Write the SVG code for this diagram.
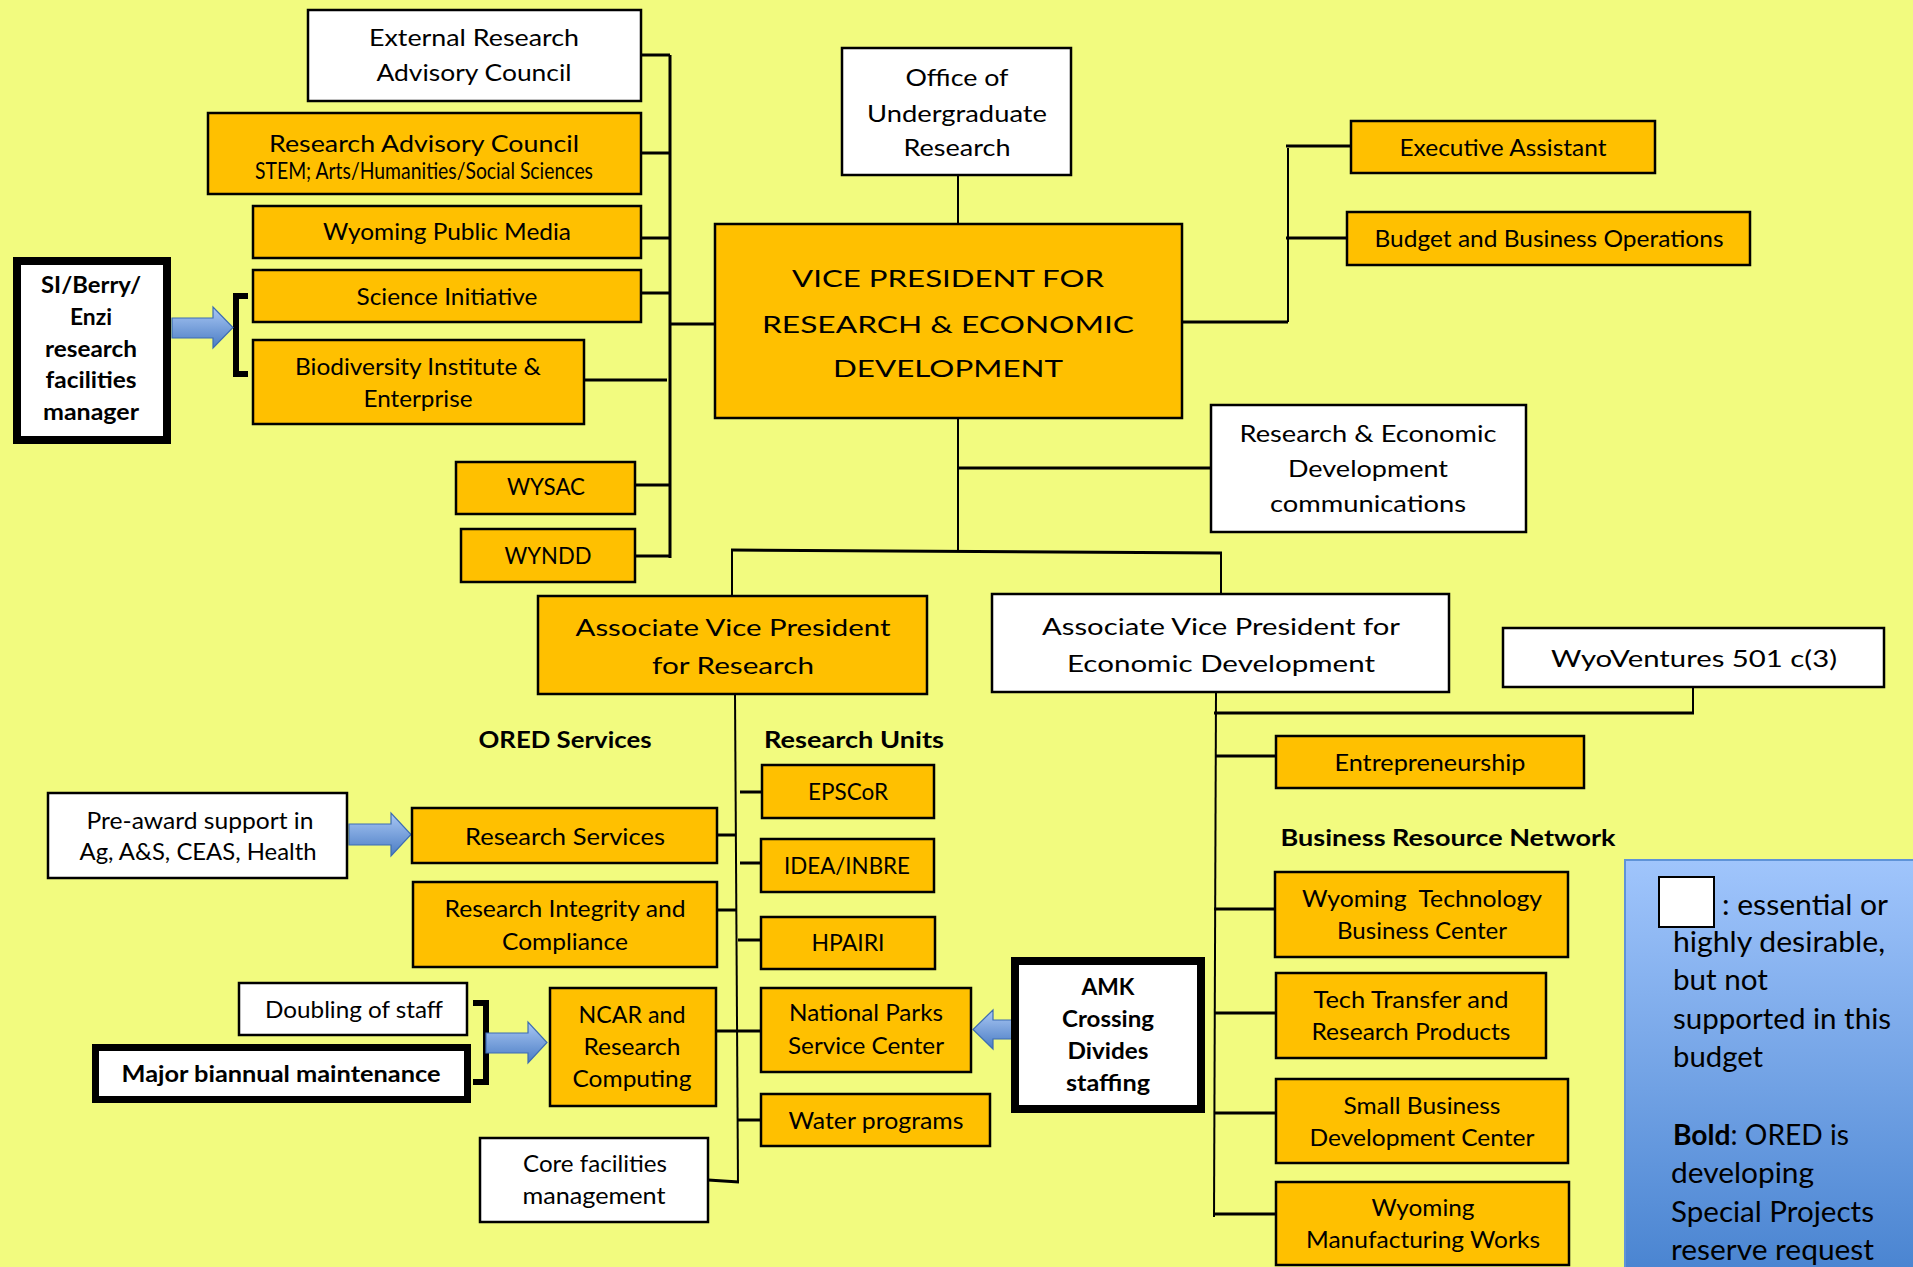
<svg xmlns="http://www.w3.org/2000/svg" width="1913" height="1267" viewBox="0 0 1913 1267">
<defs>
<style>
.o{fill:#FFC000;stroke:#000;stroke-width:2.5}
.w{fill:#fff;stroke:#000;stroke-width:2.5}
.k{fill:#fff;stroke:#000;stroke-width:8}
#connectors line,#connectors polyline,#connectors path{stroke:#000;stroke-width:3;fill:none}
text{font-family:Lato,"Liberation Sans",sans-serif;fill:#000;text-anchor:middle;font-size:23px}
.bd{font-weight:bold}
.arr{fill:url(#ag);stroke:#3d6db3;stroke-width:1.2}
.lg{text-anchor:start;font-size:29px}
</style>
<linearGradient id="ag" x1="0" y1="0" x2="0" y2="1"><stop offset="0" stop-color="#aac8f4"/><stop offset="1" stop-color="#4a7cc4"/></linearGradient>
<linearGradient id="lgg" x1="0" y1="0" x2="0" y2="1"><stop offset="0" stop-color="#a0c5fc"/><stop offset="1" stop-color="#4883d0"/></linearGradient>
</defs>
<rect width="1913" height="1267" fill="#f2fb7f"/>

<g id="connectors">
<line x1="670" y1="55" x2="670" y2="558"/>
<line x1="641" y1="55" x2="670" y2="55"/>
<line x1="641" y1="153" x2="670" y2="153"/>
<line x1="641" y1="238" x2="670" y2="238"/>
<line x1="641" y1="293" x2="670" y2="293"/>
<line x1="584" y1="380" x2="667" y2="380"/>
<line x1="635" y1="485" x2="670" y2="485"/>
<line x1="635" y1="556" x2="670" y2="556"/>
<line x1="670" y1="324" x2="715" y2="324"/>
<line x1="958" y1="175" x2="958" y2="224" style="stroke-width:2"/>
<line x1="1182" y1="322" x2="1288" y2="322"/>
<line x1="1288" y1="148" x2="1288" y2="322" style="stroke-width:2"/>
<line x1="1286" y1="146" x2="1351" y2="146"/>
<line x1="1286" y1="238" x2="1347" y2="238"/>
<line x1="958" y1="418" x2="958" y2="551" style="stroke-width:2"/>
<line x1="958" y1="468" x2="1211" y2="468"/>
<line x1="731" y1="550" x2="1222" y2="553"/>
<line x1="732" y1="550" x2="732" y2="596" style="stroke-width:2"/>
<line x1="1221" y1="553" x2="1221" y2="594" style="stroke-width:2"/>
<line x1="735" y1="694" x2="738" y2="1183" style="stroke-width:2"/>
<line x1="717" y1="835" x2="736" y2="835"/>
<line x1="717" y1="910" x2="737" y2="910"/>
<line x1="716" y1="1031" x2="761" y2="1031"/>
<line x1="708" y1="1180" x2="739" y2="1182"/>
<line x1="740" y1="792" x2="762" y2="792"/>
<line x1="740" y1="863" x2="761" y2="863"/>
<line x1="738" y1="940" x2="761" y2="940"/>
<line x1="738" y1="1120" x2="761" y2="1120"/>
<line x1="1216" y1="692" x2="1214" y2="1217" style="stroke-width:2"/>
<line x1="1693" y1="687" x2="1693" y2="714" style="stroke-width:2"/>
<line x1="1214" y1="713" x2="1694" y2="713"/>
<line x1="1215" y1="756" x2="1276" y2="756"/>
<line x1="1214" y1="909" x2="1275" y2="909"/>
<line x1="1214" y1="1013" x2="1276" y2="1013"/>
<line x1="1214" y1="1113" x2="1276" y2="1113"/>
<line x1="1214" y1="1214" x2="1276" y2="1214"/>
<path d="M248,296 H236 V374 H248" style="stroke-width:6"/>
<path d="M473,1003 H486 V1082 H473" style="stroke-width:6"/>
</g>

<g id="arrows">
<path class="arr" d="M172,318 H213 V307 L233,327.5 L213,348 V338 H172 Z"/>
<path class="arr" d="M349,824 H391 V813 L411,834.5 L391,856 V845 H349 Z"/>
<path class="arr" d="M486,1033 H528 V1022 L547,1042.5 L528,1063 V1053 H486 Z"/>
<path class="arr" d="M1013,1020 H993 V1010 L973,1029.5 L993,1049 V1039 H1013 Z"/>
</g>

<g id="ext"><rect class="w" x="308" y="10" width="333" height="91"/>
<text x="474" y="46" font-size="25" textLength="210" lengthAdjust="spacingAndGlyphs">External Research</text>
<text x="474" y="81" font-size="25" textLength="195" lengthAdjust="spacingAndGlyphs">Advisory Council</text></g>

<g id="rac"><rect class="o" x="208" y="113" width="433" height="81"/>
<text x="424" y="152" font-size="26" textLength="310" lengthAdjust="spacingAndGlyphs">Research Advisory Council</text>
<text x="424" y="179" font-size="19" textLength="338" lengthAdjust="spacingAndGlyphs">STEM; Arts/Humanities/Social Sciences</text></g>

<g id="wpm"><rect class="o" x="253" y="206" width="388" height="52"/>
<text x="447" y="240" textLength="248" lengthAdjust="spacingAndGlyphs">Wyoming Public Media</text></g>

<g id="si"><rect class="o" x="253" y="270" width="388" height="52"/>
<text x="447" y="305" font-size="24" textLength="181" lengthAdjust="spacingAndGlyphs">Science Initiative</text></g>

<g id="bio"><rect class="o" x="253" y="340" width="331" height="84"/>
<text x="418" y="375" font-size="24" textLength="246" lengthAdjust="spacingAndGlyphs">Biodiversity Institute &amp;</text>
<text x="418" y="407" font-size="24" textLength="109" lengthAdjust="spacingAndGlyphs">Enterprise</text></g>

<g id="siberry"><rect class="k" x="17" y="261" width="150" height="179"/>
<text class="bd" x="91" y="293" textLength="100" lengthAdjust="spacingAndGlyphs">SI/Berry/</text>
<text class="bd" x="91" y="325" textLength="42" lengthAdjust="spacingAndGlyphs">Enzi</text>
<text class="bd" x="91" y="357" textLength="92" lengthAdjust="spacingAndGlyphs">research</text>
<text class="bd" x="91" y="388" textLength="91" lengthAdjust="spacingAndGlyphs">facilities</text>
<text class="bd" x="91" y="420" textLength="96" lengthAdjust="spacingAndGlyphs">manager</text></g>

<g id="office"><rect class="w" x="842" y="48" width="229" height="127"/>
<text x="957" y="86" font-size="26" textLength="103" lengthAdjust="spacingAndGlyphs">Office of</text>
<text x="957" y="122" font-size="26" textLength="180" lengthAdjust="spacingAndGlyphs">Undergraduate</text>
<text x="957" y="156" font-size="26" textLength="107" lengthAdjust="spacingAndGlyphs">Research</text></g>

<g id="vp"><rect class="o" x="715" y="224" width="467" height="194"/>
<text x="948" y="287" font-size="31" textLength="312" lengthAdjust="spacingAndGlyphs">VICE PRESIDENT FOR</text>
<text x="948" y="333" font-size="31" textLength="372" lengthAdjust="spacingAndGlyphs">RESEARCH &amp; ECONOMIC</text>
<text x="948" y="377" font-size="31" textLength="230" lengthAdjust="spacingAndGlyphs">DEVELOPMENT</text></g>

<g id="exec"><rect class="o" x="1351" y="121" width="304" height="52"/>
<text x="1503" y="156" textLength="207" lengthAdjust="spacingAndGlyphs">Executive Assistant</text></g>

<g id="budget"><rect class="o" x="1347" y="212" width="403" height="53"/>
<text x="1549" y="247" textLength="349" lengthAdjust="spacingAndGlyphs">Budget and Business Operations</text></g>

<g id="recomm"><rect class="w" x="1211" y="405" width="315" height="127"/>
<text x="1368" y="442" font-size="25" textLength="257" lengthAdjust="spacingAndGlyphs">Research &amp; Economic</text>
<text x="1368" y="477" font-size="25" textLength="160" lengthAdjust="spacingAndGlyphs">Development</text>
<text x="1368" y="512" font-size="25" textLength="196" lengthAdjust="spacingAndGlyphs">communications</text></g>

<g id="wysac"><rect class="o" x="456" y="462" width="179" height="52"/>
<text x="546" y="495" textLength="78" lengthAdjust="spacingAndGlyphs">WYSAC</text></g>

<g id="wyndd"><rect class="o" x="461" y="529" width="174" height="53"/>
<text x="548" y="564" textLength="87" lengthAdjust="spacingAndGlyphs">WYNDD</text></g>

<g id="avpr"><rect class="o" x="538" y="596" width="389" height="98"/>
<text x="733" y="636" font-size="28.5" textLength="315" lengthAdjust="spacingAndGlyphs">Associate Vice President</text>
<text x="733" y="674" font-size="28.5" textLength="162" lengthAdjust="spacingAndGlyphs">for Research</text></g>

<g id="avped"><rect class="w" x="992" y="594" width="457" height="98"/>
<text x="1221" y="635" font-size="27.5" textLength="358" lengthAdjust="spacingAndGlyphs">Associate Vice President for</text>
<text x="1221" y="672" font-size="27.5" textLength="308" lengthAdjust="spacingAndGlyphs">Economic Development</text></g>

<g id="wyov"><rect class="w" x="1503" y="628" width="381" height="59"/>
<text x="1694" y="667" font-size="28" textLength="286" lengthAdjust="spacingAndGlyphs">WyoVentures 501 c(3)</text></g>

<g id="labels">
<text class="bd" x="565" y="748" textLength="173" lengthAdjust="spacingAndGlyphs">ORED Services</text>
<text class="bd" x="854" y="748" textLength="180" lengthAdjust="spacingAndGlyphs">Research Units</text>
<text class="bd" x="1448" y="846" textLength="335" lengthAdjust="spacingAndGlyphs">Business Resource Network</text>
</g>

<g id="epscor"><rect class="o" x="762" y="765" width="172" height="53"/>
<text x="848" y="800" textLength="80" lengthAdjust="spacingAndGlyphs">EPSCoR</text></g>

<g id="idea"><rect class="o" x="761" y="839" width="173" height="53"/>
<text x="847" y="874" textLength="126" lengthAdjust="spacingAndGlyphs">IDEA/INBRE</text></g>

<g id="hpairi"><rect class="o" x="761" y="917" width="174" height="52"/>
<text x="848" y="951" textLength="73" lengthAdjust="spacingAndGlyphs">HPAIRI</text></g>

<g id="natparks"><rect class="o" x="761" y="988" width="210" height="84"/>
<text x="866" y="1021" textLength="154" lengthAdjust="spacingAndGlyphs">National Parks</text>
<text x="866" y="1054" textLength="156" lengthAdjust="spacingAndGlyphs">Service Center</text></g>

<g id="water"><rect class="o" x="761" y="1094" width="229" height="52"/>
<text x="876" y="1129" textLength="175" lengthAdjust="spacingAndGlyphs">Water programs</text></g>

<g id="preaward"><rect class="w" x="48" y="793" width="299" height="85"/>
<text x="200" y="829" textLength="227" lengthAdjust="spacingAndGlyphs">Pre-award support in</text>
<text x="198" y="860" textLength="237" lengthAdjust="spacingAndGlyphs">Ag, A&amp;S, CEAS, Health</text></g>

<g id="resserv"><rect class="o" x="412" y="808" width="305" height="55"/>
<text x="565" y="845" font-size="26" textLength="200" lengthAdjust="spacingAndGlyphs">Research Services</text></g>

<g id="resint"><rect class="o" x="413" y="882" width="304" height="85"/>
<text x="565" y="917" textLength="241" lengthAdjust="spacingAndGlyphs">Research Integrity and</text>
<text x="565" y="950" textLength="126" lengthAdjust="spacingAndGlyphs">Compliance</text></g>

<g id="doubling"><rect class="w" x="239" y="983" width="228" height="52"/>
<text x="354" y="1018" textLength="178" lengthAdjust="spacingAndGlyphs">Doubling of staff</text></g>

<g id="major"><rect class="k" x="95.5" y="1047.5" width="372" height="52" style="stroke-width:7"/>
<text class="bd" x="281" y="1082" textLength="319" lengthAdjust="spacingAndGlyphs">Major biannual maintenance</text></g>

<g id="ncar"><rect class="o" x="550" y="988" width="166" height="118"/>
<text x="632" y="1023" textLength="107" lengthAdjust="spacingAndGlyphs">NCAR and</text>
<text x="632" y="1055" textLength="97" lengthAdjust="spacingAndGlyphs">Research</text>
<text x="632" y="1087" textLength="119" lengthAdjust="spacingAndGlyphs">Computing</text></g>

<g id="core"><rect class="w" x="480" y="1138" width="228" height="84"/>
<text x="595" y="1172" textLength="144" lengthAdjust="spacingAndGlyphs">Core facilities</text>
<text x="594" y="1204" textLength="143" lengthAdjust="spacingAndGlyphs">management</text></g>

<g id="entre"><rect class="o" x="1276" y="736" width="308" height="52"/>
<text x="1430" y="771" textLength="191" lengthAdjust="spacingAndGlyphs">Entrepreneurship</text></g>

<g id="wtbc"><rect class="o" x="1275" y="872" width="293" height="85"/>
<text x="1422" y="907" textLength="240" lengthAdjust="spacingAndGlyphs" xml:space="preserve">Wyoming  Technology</text>
<text x="1422" y="939" textLength="170" lengthAdjust="spacingAndGlyphs">Business Center</text></g>

<g id="ttrp"><rect class="o" x="1276" y="973" width="270" height="85"/>
<text x="1411" y="1008" textLength="195" lengthAdjust="spacingAndGlyphs">Tech Transfer and</text>
<text x="1411" y="1040" textLength="199" lengthAdjust="spacingAndGlyphs">Research Products</text></g>

<g id="sbdc"><rect class="o" x="1276" y="1079" width="292" height="84"/>
<text x="1422" y="1114" textLength="157" lengthAdjust="spacingAndGlyphs">Small Business</text>
<text x="1422" y="1146" textLength="225" lengthAdjust="spacingAndGlyphs">Development Center</text></g>

<g id="wmw"><rect class="o" x="1276" y="1182" width="293" height="83"/>
<text x="1423" y="1216" textLength="103" lengthAdjust="spacingAndGlyphs">Wyoming</text>
<text x="1423" y="1248" textLength="234" lengthAdjust="spacingAndGlyphs">Manufacturing Works</text></g>

<g id="amk"><rect class="k" x="1015" y="961" width="186" height="148"/>
<text class="bd" x="1108" y="995" textLength="53" lengthAdjust="spacingAndGlyphs">AMK</text>
<text class="bd" x="1108" y="1027" textLength="92" lengthAdjust="spacingAndGlyphs">Crossing</text>
<text class="bd" x="1108" y="1059" textLength="81" lengthAdjust="spacingAndGlyphs">Divides</text>
<text class="bd" x="1108" y="1091" textLength="84" lengthAdjust="spacingAndGlyphs">staffing</text></g>

<g id="legend"><rect x="1625" y="860" width="300" height="420" fill="url(#lgg)" stroke="#5f93d8" stroke-width="2"/>
<rect x="1659" y="877" width="55" height="50" fill="#fff" stroke="#000" stroke-width="2"/>
<text class="lg" x="1722" y="915" textLength="166" lengthAdjust="spacingAndGlyphs">: essential or</text>
<text class="lg" x="1673" y="952" textLength="212" lengthAdjust="spacingAndGlyphs">highly desirable,</text>
<text class="lg" x="1673" y="990" textLength="95" lengthAdjust="spacingAndGlyphs">but not</text>
<text class="lg" x="1673" y="1029" textLength="218" lengthAdjust="spacingAndGlyphs">supported in this</text>
<text class="lg" x="1673" y="1067" textLength="90" lengthAdjust="spacingAndGlyphs">budget</text>
<text class="lg" x="1673" y="1145" textLength="176" lengthAdjust="spacingAndGlyphs"><tspan font-weight="bold">Bold</tspan>: ORED is</text>
<text class="lg" x="1671" y="1183" textLength="143" lengthAdjust="spacingAndGlyphs">developing</text>
<text class="lg" x="1671" y="1222" textLength="203" lengthAdjust="spacingAndGlyphs">Special Projects</text>
<text class="lg" x="1671" y="1260" textLength="203" lengthAdjust="spacingAndGlyphs">reserve request</text></g>
</svg>
